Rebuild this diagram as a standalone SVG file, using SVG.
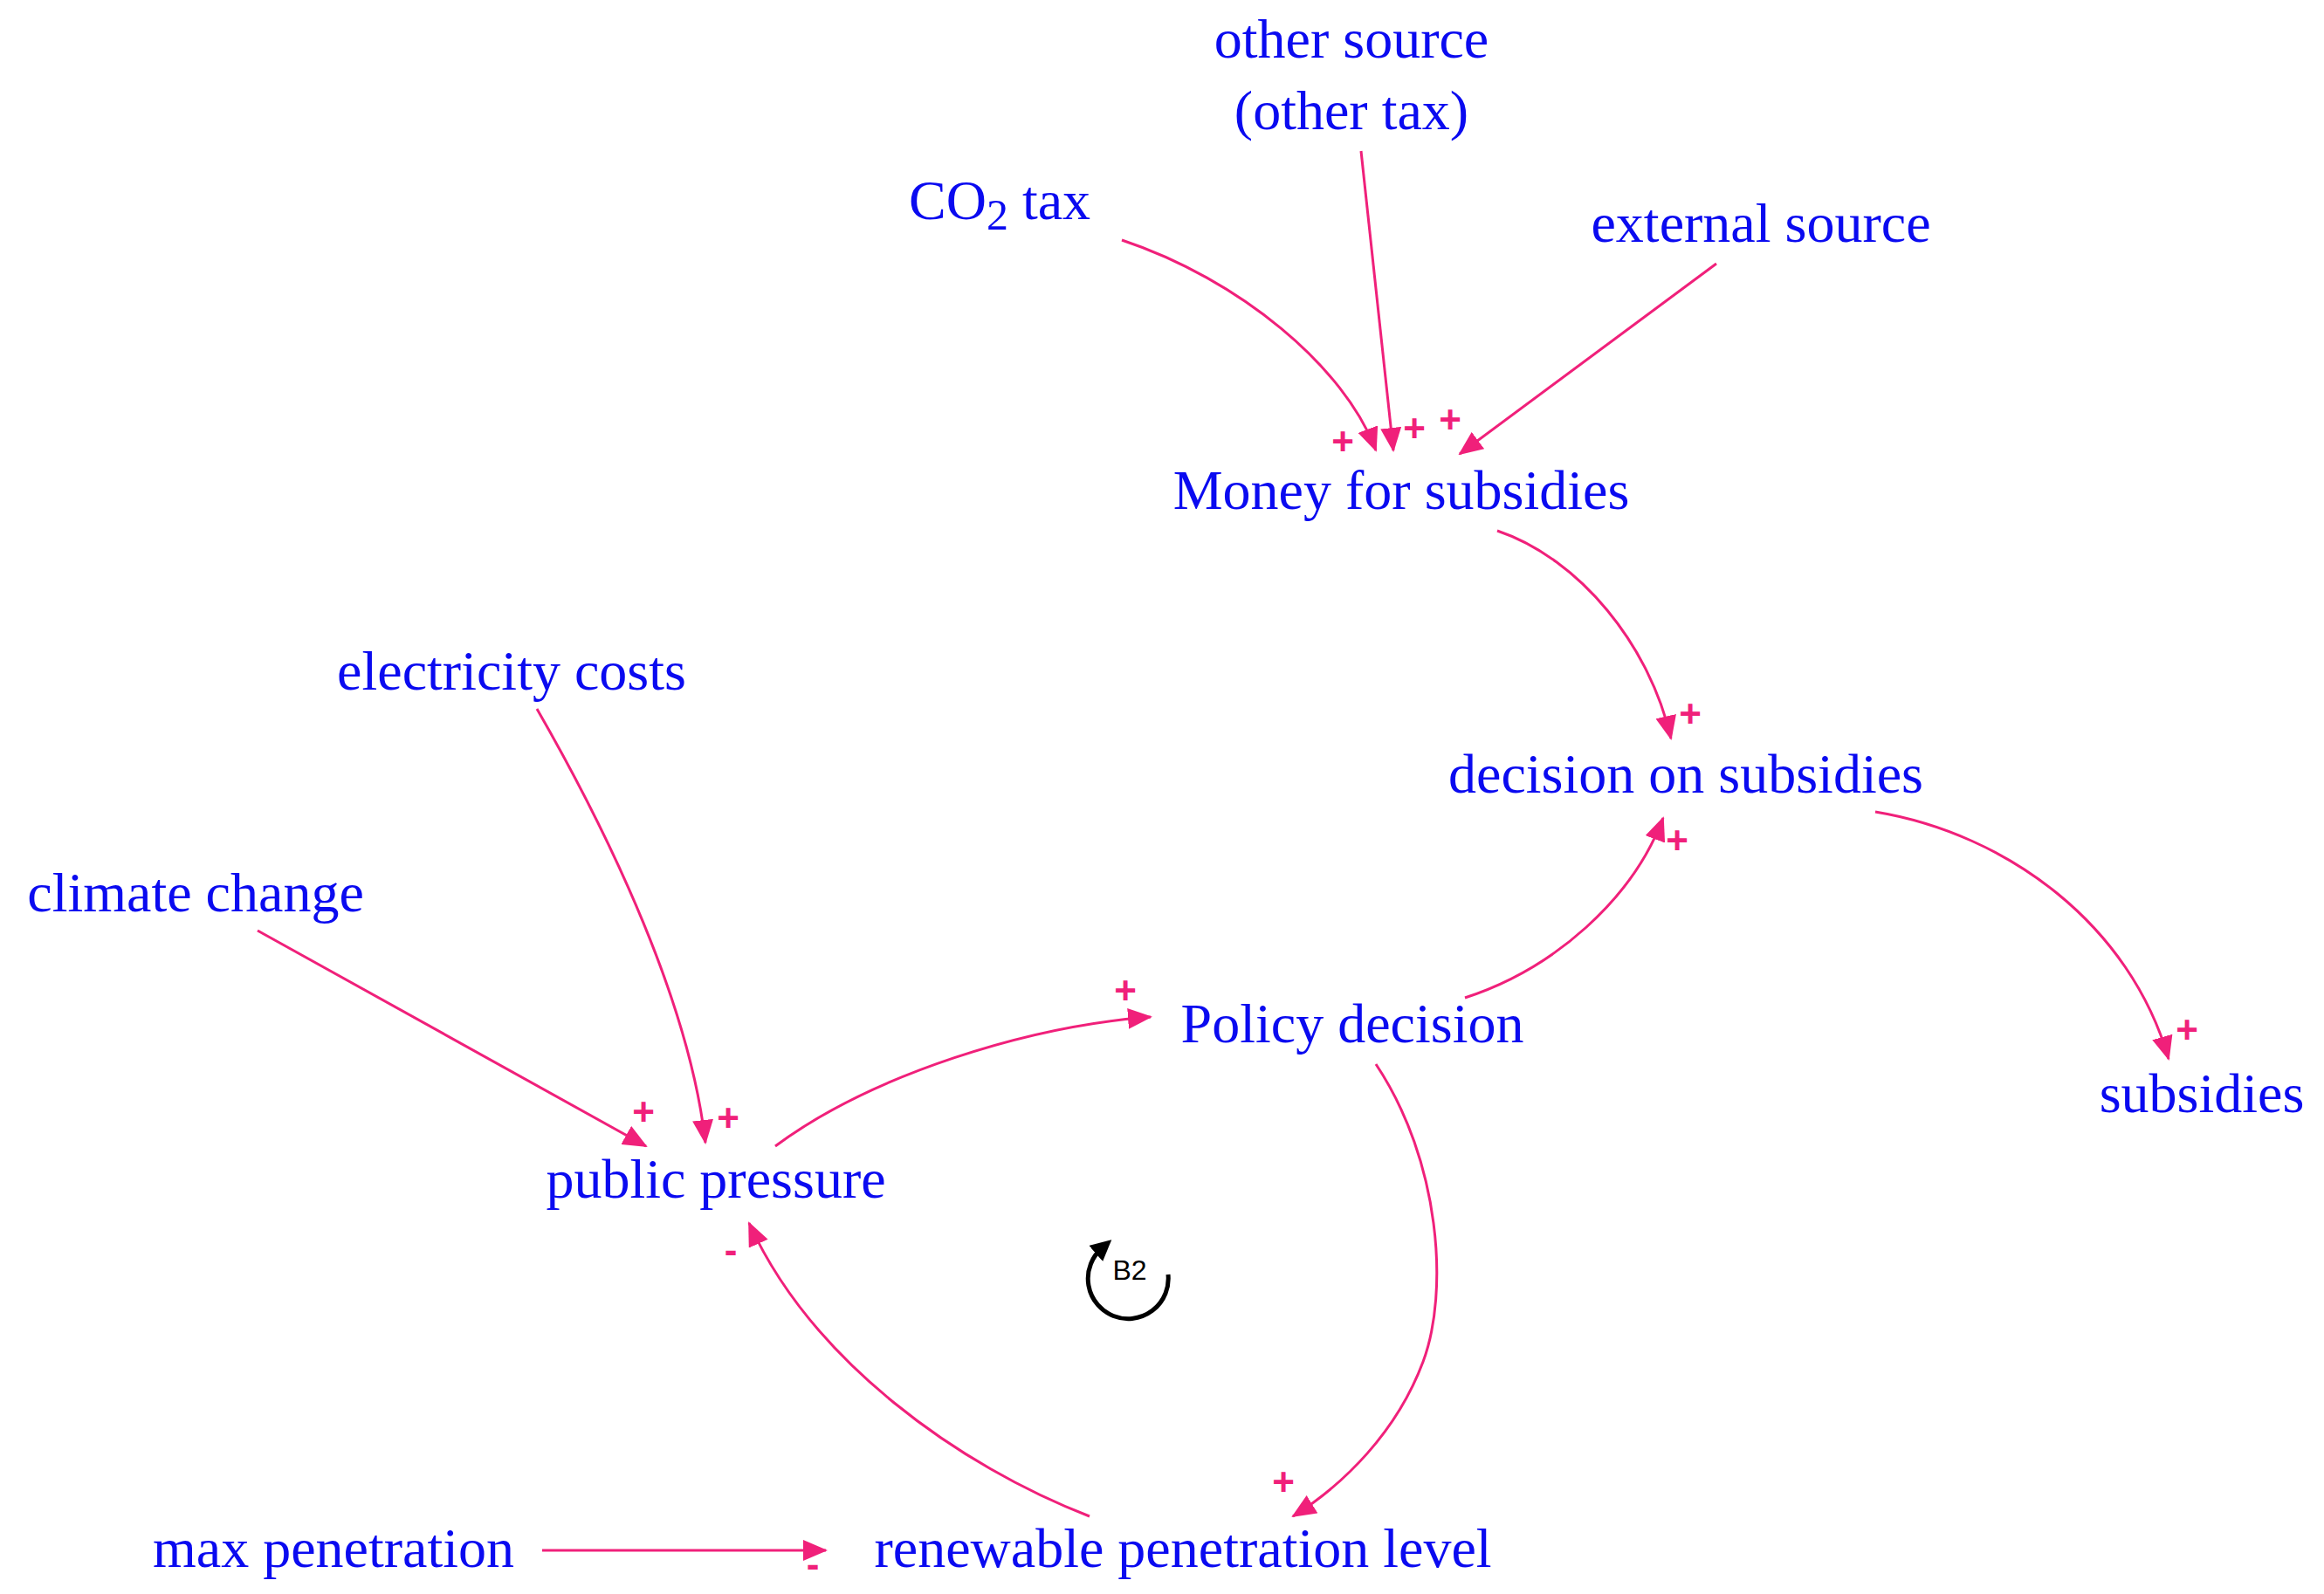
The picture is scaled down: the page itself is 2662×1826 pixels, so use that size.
<svg xmlns="http://www.w3.org/2000/svg" width="2662" height="1826" viewBox="0 0 2662 1826">
<style>
.t{font-family:"Liberation Serif",serif;font-size:64px;fill:#0a0af0;text-anchor:middle}
.c{fill:none;stroke:#f0207a;stroke-width:3}
.p{font-family:"Liberation Sans",sans-serif;font-size:44px;font-weight:bold;fill:#f0207a;text-anchor:middle}
</style>
<defs>
<marker id="a" markerUnits="userSpaceOnUse" markerWidth="28" markerHeight="24" viewBox="0 0 28 24" refX="26" refY="12" orient="auto">
<path d="M0,0 L28,12 L0,24 Z" fill="#f0207a"/>
</marker>
<marker id="b" markerUnits="userSpaceOnUse" markerWidth="24" markerHeight="24" viewBox="0 0 16 16" refX="6" refY="8" orient="auto">
<path d="M0,0 L16,8 L0,16 Z" fill="#000"/>
</marker>
</defs>
<g id="connectors">
<path class="c" marker-end="url(#a)" d="M1285,275 C1420,320 1540,420 1576,516"/>
<path class="c" marker-end="url(#a)" d="M1559,173 L1596,516"/>
<path class="c" marker-end="url(#a)" d="M1966,302 L1672,520"/>
<path class="c" marker-end="url(#a)" d="M1715,608 C1810,640 1890,740 1914,846"/>
<path class="c" marker-end="url(#a)" d="M2148,930 C2300,955 2440,1060 2484,1213"/>
<path class="c" marker-end="url(#a)" d="M1678,1143 C1780,1110 1870,1030 1905,937"/>
<path class="c" marker-end="url(#a)" d="M615,812 C700,960 790,1150 808,1309"/>
<path class="c" marker-end="url(#a)" d="M295,1066 L740,1313"/>
<path class="c" marker-end="url(#a)" d="M888,1313 C1000,1230 1180,1175 1318,1165"/>
<path class="c" marker-end="url(#a)" d="M1576,1219 C1650,1330 1660,1480 1630,1560 C1600,1640 1540,1700 1481,1737"/>
<path class="c" marker-end="url(#a)" d="M1248,1737 C1100,1680 930,1560 858,1401"/>
<path class="c" marker-end="url(#a)" d="M621,1776 L946,1776"/>
</g>
<g id="polarities">
<text class="p" x="1538" y="521">+</text>
<text class="p" x="1620" y="506">+</text>
<text class="p" x="1661" y="496">+</text>
<text class="p" x="1936" y="833">+</text>
<text class="p" x="1921" y="978">+</text>
<text class="p" x="2505" y="1195">+</text>
<text class="p" x="1289" y="1150">+</text>
<text class="p" x="737" y="1289">+</text>
<text class="p" x="834" y="1296">+</text>
<text class="p" x="837" y="1447">-</text>
<text class="p" x="1470" y="1713">+</text>
<text class="p" x="931" y="1807">-</text>
</g>
<g id="n-other"><text class="t" x="1548" y="66">other source</text><text class="t" x="1548" y="148">(other tax)</text></g>
<g id="n-co2"><text class="t" x="1041" y="251" style="text-anchor:start">CO<tspan font-size="50" dy="12">2</tspan><tspan dy="-12"> tax</tspan></text></g>
<g id="n-external"><text class="t" x="2017" y="277">external source</text></g>
<g id="n-money"><text class="t" x="1605" y="583">Money for subsidies</text></g>
<g id="n-decision"><text class="t" x="1931" y="908">decision on subsidies</text></g>
<g id="n-elec"><text class="t" x="586" y="790">electricity costs</text></g>
<g id="n-climate"><text class="t" x="224" y="1044">climate change</text></g>
<g id="n-policy"><text class="t" x="1549" y="1194">Policy decision</text></g>
<g id="n-subsidies"><text class="t" x="2522" y="1274">subsidies</text></g>
<g id="n-public"><text class="t" x="820" y="1372">public pressure</text></g>
<g id="n-max"><text class="t" x="382" y="1795">max penetration</text></g>
<g id="n-renew"><text class="t" x="1355" y="1795">renewable penetration level</text></g>
<g id="loop-b2">
<path d="M1338,1460 A46,46 0 1 1 1262,1430" fill="none" stroke="#000" stroke-width="5" marker-end="url(#b)"/>
<text x="1294" y="1466" font-family="Liberation Sans,sans-serif" font-size="32" text-anchor="middle">B2</text>
</g>
</svg>
